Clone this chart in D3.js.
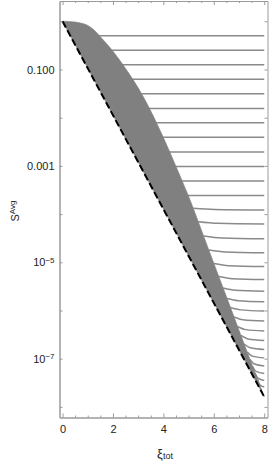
<!DOCTYPE html>
<html><head><meta charset="utf-8">
<script src="https://cdn.jsdelivr.net/npm/d3@7"></script>
<style>body{margin:0;background:#fff}svg{display:block}</style>
</head><body>
<script>
// ---- data ----
const envelopeXi = [0,0.25,0.5,0.75,1,1.25,1.5,2,2.5,3,3.5,4,4.5,5,5.5,6,6.5,7,7.5,8];
const envelopeS  = [1,0.991,0.964,0.912,0.822,0.661,0.479,0.240,0.105,0.0417,0.0138,3.89e-3,9.77e-4,2.34e-4,4.79e-5,9.55e-6,1.95e-6,3.89e-7,7.94e-8,1.62e-8];
const boundXi = [0,8];
const boundS  = [1,1.62e-8];
const flatLevels  = [0.5,0.25,0.125,0.0625,0.0313,0.0156,7.81e-3,3.91e-3,1.95e-3,9.77e-4,4.88e-4,2.44e-4];
const flatStartXi = [1.47,1.97,2.39,2.78,3.13,3.44,3.72,4.0,4.25,4.5,4.74,4.985];
const bendStartXi = [5.18,5.38,5.60,5.80,6.00,6.20,6.37,6.53,6.66,6.80,6.94,7.08,7.21,7.33,7.44,7.54,7.64,7.74];
const bendStartS  = [1.318e-4,6.95e-5,3.52e-5,1.80e-5,9.44e-6,5.07e-6,2.93e-6,1.77e-6,1.15e-6,7.33e-7,4.66e-7,3.03e-7,2.02e-7,1.38e-7,9.62e-8,6.89e-8,5.05e-8,3.70e-8];
const bendKneeXi  = [6.03,6.17,6.32,6.46,6.60,6.74,6.86,6.97,7.06,7.16,7.26,7.36,7.45,7.53,7.61,7.68,7.75,7.82];
const bendKneeS   = [1.25e-4,6.44e-5,3.20e-5,1.64e-5,8.51e-6,4.57e-6,2.63e-6,1.60e-6,1.03e-6,6.41e-7,4.01e-7,2.56e-7,1.68e-7,1.13e-7,7.74e-8,5.45e-8,3.94e-8,2.88e-8];
const bendEndXi   = 8;
const bendEndS    = [1.222e-4,6.24e-5,3.08e-5,1.57e-5,8.15e-6,4.38e-6,2.51e-6,1.52e-6,9.77e-7,6.05e-7,3.76e-7,2.39e-7,1.55e-7,1.04e-7,7.06e-8,4.93e-8,3.53e-8,2.59e-8];
const xMajorTicks = [0,2,4,6,8];
const xMinorTicks = [0.5,1,1.5,2.5,3,3.5,4.5,5,5.5,6.5,7,7.5];
const yMajorTicks = [1e-1,1e-3,1e-5,1e-7];
const yMajorLabels = [["0.100",""],["0.001",""],["10","\u22125"],["10","\u22127"]];
const yMinorTicks = [1,1e-2,1e-4,1e-6,1e-8];

// ---- layout ----
const W = 274, H = 461;
const L = 59.5, R = 267.5, T = 1, B = 417.5;
const LEAD = 0.15;
const font = "'Liberation Sans', Arial, sans-serif";
const frameCol = "#9a9a9a";

const x = d3.scaleLinear().domain([-0.12, 8.13]).range([L, R]);
const y = d3.scaleLog().domain([Math.pow(10,-8.22), Math.pow(10,0.421)]).range([B, T]);

const svg = d3.select("body").append("svg").attr("width", W).attr("height", H)
  .style("font-family", font);

const line = d3.line().x(d => x(d[0])).y(d => y(d[1])).curve(d3.curveMonotoneX);

// horizontal lines (drawn under the band)
const gLines = svg.append("g").attr("fill","none").attr("stroke","#8a8a8a").attr("stroke-width",1.5);
flatLevels.forEach((s,i) => {
  gLines.append("path").attr("d", d3.line().x(d=>x(d[0])).y(d=>y(d[1]))([[flatStartXi[i]-LEAD, s],[8, s]]));
});
bendStartXi.forEach((xs,i) => {
  const pts = [[xs - 0.03, bendStartS[i]],[xs, bendStartS[i]],[bendKneeXi[i], bendKneeS[i]],[bendEndXi, bendEndS[i]]];
  gLines.append("path").attr("d", line(pts.slice(1)));
});

// band
const envPts = envelopeXi.map((v,i)=>[v, envelopeS[i]]);
const bndPts = boundXi.map((v,i)=>[v, boundS[i]]).reverse();
const bandD = line(envPts) + bndPts.map(p => "L" + x(p[0]) + "," + y(p[1])).join("") + "Z";
svg.append("path").attr("d", bandD).attr("fill", "#808080").attr("stroke","#808080").attr("stroke-width",0.6);

// dashed bound
svg.append("path").attr("d", d3.line().x(d=>x(d[0])).y(d=>y(d[1]))(boundXi.map((v,i)=>[v,boundS[i]])))
  .attr("fill","none").attr("stroke","#000").attr("stroke-width",2).attr("stroke-dasharray","7,3.2");

// axes / frame
function styleAxis(g){
  g.selectAll(".domain").attr("stroke", frameCol).attr("stroke-width",1);
  g.selectAll(".tick line").attr("stroke", frameCol).attr("stroke-width",1);
  g.selectAll("text").attr("fill","#222").style("font-family",font).style("font-size","11px");
}
const ax = svg.append("g");
ax.append("g").attr("transform",`translate(0,${B})`)
  .call(d3.axisBottom(x).tickValues(xMajorTicks).tickSize(-4).tickSizeOuter(0).tickPadding(7.5).tickFormat(d3.format("d"))).call(styleAxis);
ax.append("g").attr("transform",`translate(0,${B})`)
  .call(d3.axisBottom(x).tickValues(xMinorTicks).tickSize(-2).tickSizeOuter(0).tickFormat("")).call(styleAxis);
ax.append("g").attr("transform",`translate(0,${T})`)
  .call(d3.axisTop(x).tickValues(xMajorTicks).tickSize(-4).tickSizeOuter(0).tickFormat("")).call(styleAxis);
ax.append("g").attr("transform",`translate(0,${T})`)
  .call(d3.axisTop(x).tickValues(xMinorTicks).tickSize(-2).tickSizeOuter(0).tickFormat("")).call(styleAxis);

const yl = ax.append("g").attr("transform",`translate(${L},0)`)
  .call(d3.axisLeft(y).tickValues(yMajorTicks).tickSize(-3).tickSizeOuter(0).tickPadding(5).tickFormat(()=>"")).call(styleAxis);
yl.selectAll(".tick text").each(function(d,i){
  const t = d3.select(this);
  const lab = yMajorLabels[i];
  t.append("tspan").text(lab[0]);
  if (lab[1]) t.append("tspan").attr("dy","-0.45em").style("font-size","8px").text(lab[1]);
});
ax.append("g").attr("transform",`translate(${L},0)`)
  .call(d3.axisLeft(y).tickValues(yMinorTicks).tickSize(-3).tickSizeOuter(0).tickFormat("")).call(styleAxis);
ax.append("g").attr("transform",`translate(${R},0)`)
  .call(d3.axisRight(y).tickValues(yMajorTicks.concat(yMinorTicks)).tickSize(-3).tickSizeOuter(0).tickFormat("")).call(styleAxis);

// axis titles
const xt = svg.append("text").attr("x", 165).attr("y", 457.5).attr("text-anchor","middle")
  .attr("fill","#222").style("font-size","13px");
xt.append("tspan").text("\u03BE");
xt.append("tspan").attr("dy","1").style("font-size","9px").text("tot");

const yt = svg.append("text").attr("transform","translate(19,211) rotate(-90)").attr("text-anchor","middle")
  .attr("fill","#222").style("font-size","11px");
yt.append("tspan").text("S");
yt.append("tspan").attr("dy","-4").style("font-size","8px").text("Avg");
</script>
</body></html>
